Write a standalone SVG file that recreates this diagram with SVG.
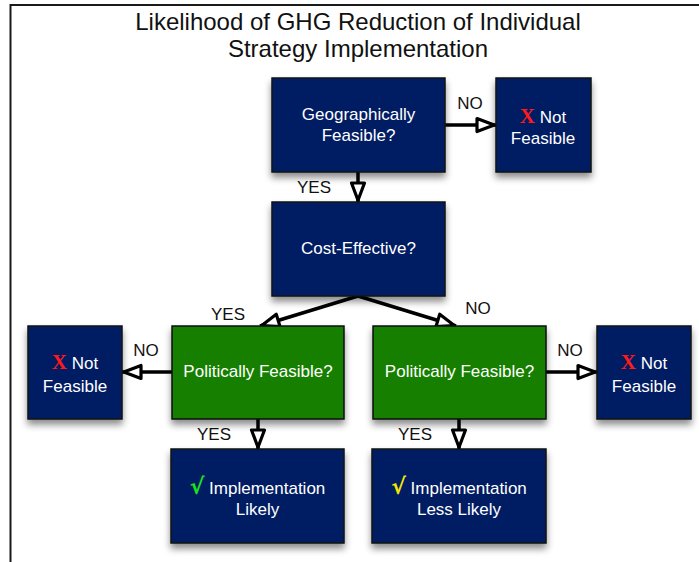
<svg xmlns="http://www.w3.org/2000/svg" width="699" height="562" viewBox="0 0 699 562">
<style>
.title{font-family:"Liberation Sans",Arial,sans-serif;font-size:24px;fill:#111;text-anchor:middle}
.lbl{font-family:"Liberation Sans",Arial,sans-serif;font-size:17px;fill:#111;text-anchor:middle}
.nt{font-family:"Liberation Sans",Arial,sans-serif;font-size:17px;fill:#fff;text-anchor:middle}
.navy{fill:#061d64;stroke:#111;stroke-width:1.5}
.green{fill:#157f00;stroke:#111;stroke-width:1.5}
.x{font-family:"Liberation Serif","Times New Roman",serif;font-weight:bold;font-size:21px;fill:#ff1a1a}
.ck{font-family:"DejaVu Sans",sans-serif;font-size:22px;font-weight:bold}
.conn{fill:none;stroke:#000;stroke-width:3.5;marker-end:url(#ah)}
</style>
<defs>
<filter id="sh" x="-20%" y="-20%" width="140%" height="150%">
<feDropShadow dx="0" dy="5" stdDeviation="3.5" flood-color="#000" flood-opacity="0.45"/>
</filter>
<marker id="ah" markerUnits="userSpaceOnUse" viewBox="-22 -10 24 20" refX="0" refY="0" markerWidth="24" markerHeight="20" orient="auto" overflow="visible">
<path d="M-19,-6.5 L-1.8,0 L-19,6.5 Z" fill="#fff" stroke="#000" stroke-width="3.2" stroke-linejoin="round"/>
</marker>
</defs>
<rect width="699" height="562" fill="#fff"/>
<path d="M10.5,562 V5 H699" fill="none" stroke="#1a1a1a" stroke-width="2"/>
<text class="title" x="358" y="30">Likelihood of GHG Reduction of Individual</text>
<text class="title" x="358" y="57">Strategy Implementation</text>

<g id="connectors">
<path class="conn" d="M445,125 H496"/>
<path class="conn" d="M358,172 V202"/>
<path class="conn" d="M358,296 L260,326"/>
<path class="conn" d="M358,296 L456,326"/>
<path class="conn" d="M172,372 H122"/>
<path class="conn" d="M546,372 H597"/>
<path class="conn" d="M258,419 V449"/>
<path class="conn" d="M459,419 V449"/>
<text class="lbl" x="470" y="109">NO</text>
<text class="lbl" x="314" y="193">YES</text>
<text class="lbl" x="228" y="320">YES</text>
<text class="lbl" x="478" y="314">NO</text>
<text class="lbl" x="146" y="356">NO</text>
<text class="lbl" x="570" y="356">NO</text>
<text class="lbl" x="214" y="440">YES</text>
<text class="lbl" x="415" y="440">YES</text>
</g>

<g id="geo">
<rect class="navy" filter="url(#sh)" x="272" y="78" width="173" height="94"/>
<text class="nt" x="358.5" y="120">Geographically</text>
<text class="nt" x="358.5" y="141">Feasible?</text>
</g>
<g id="nf-top">
<rect class="navy" filter="url(#sh)" x="496" y="78" width="95" height="94"/>
<text class="nt" x="543" y="123"><tspan class="x">X</tspan> Not</text>
<text class="nt" x="543" y="144">Feasible</text>
</g>
<g id="cost">
<rect class="navy" filter="url(#sh)" x="272" y="202" width="173" height="94"/>
<text class="nt" x="358.5" y="254">Cost-Effective?</text>
</g>
<g id="pol-left">
<rect class="green" filter="url(#sh)" x="172" y="326" width="172" height="93"/>
<text class="nt" x="258" y="377">Politically Feasible?</text>
</g>
<g id="nf-left">
<rect class="navy" filter="url(#sh)" x="28" y="326" width="94" height="93"/>
<text class="nt" x="75" y="369"><tspan class="x">X</tspan> Not</text>
<text class="nt" x="75" y="392">Feasible</text>
</g>
<g id="pol-right">
<rect class="green" filter="url(#sh)" x="373" y="326" width="173" height="93"/>
<text class="nt" x="459.5" y="377">Politically Feasible?</text>
</g>
<g id="nf-right">
<rect class="navy" filter="url(#sh)" x="597" y="326" width="94" height="93"/>
<text class="nt" x="644" y="369"><tspan class="x">X</tspan> Not</text>
<text class="nt" x="644" y="392">Feasible</text>
</g>
<g id="impl-likely">
<rect class="navy" filter="url(#sh)" x="171" y="449" width="173" height="94"/>
<text class="nt" x="257.5" y="494"><tspan class="ck" fill="#19e619">√</tspan> Implementation</text>
<text class="nt" x="257.5" y="515">Likely</text>
</g>
<g id="impl-less">
<rect class="navy" filter="url(#sh)" x="372" y="449" width="174" height="94"/>
<text class="nt" x="459" y="494"><tspan class="ck" fill="#f2e600">√</tspan> Implementation</text>
<text class="nt" x="459" y="515">Less Likely</text>
</g>
</svg>
